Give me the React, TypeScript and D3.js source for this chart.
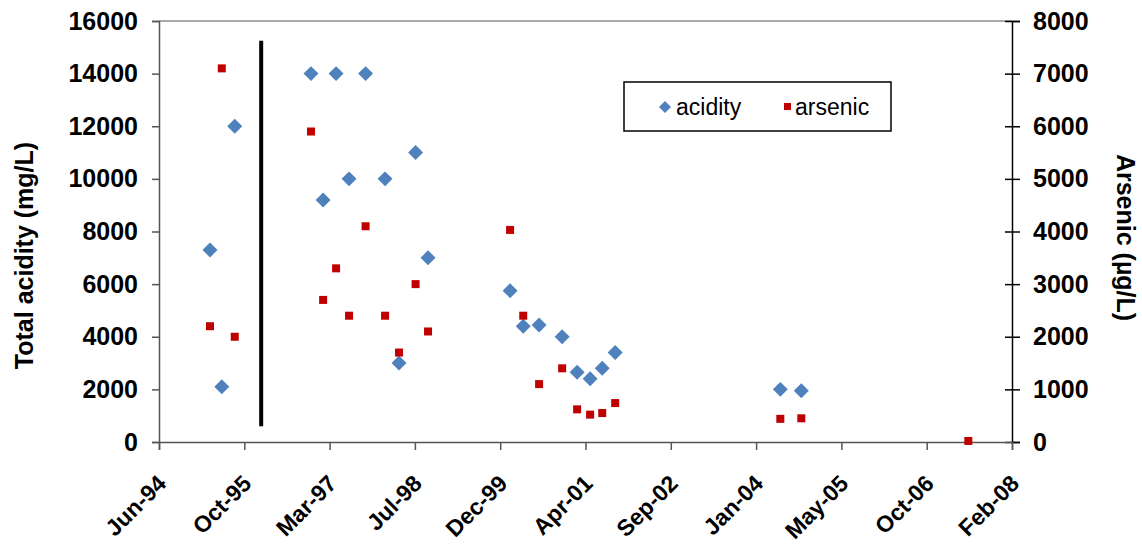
import React, { useEffect, useRef } from "react";
import * as d3 from "d3";

// sample dates and readings
const acidityDates = [
  "1995-04-10", "1995-06-18", "1995-09-02", "1996-11-22", "1997-04-18", "1997-10-08",
  "1997-02-01", "1997-07-03", "1998-01-30", "1998-04-22", "1998-07-28", "1998-10-09",
  "2000-02-02", "2000-04-19", "2000-07-21", "2000-12-03", "2001-03-01", "2001-05-16",
  "2001-07-26", "2001-10-10", "2004-06-04", "2004-10-05",
];
const acidity = [
  7300, 2100, 12000, 14000, 14000, 14000,
  9200, 10000, 10000, 3000, 11000, 7000,
  5750, 4400, 4450, 4000, 2650, 2400,
  2800, 3400, 2000, 1950,
];

const arsenicDates = [
  "1995-06-18", "1995-04-10", "1995-09-02", "1996-11-22", "1997-02-01", "1997-04-18",
  "1997-07-03", "1997-10-08", "1998-01-30", "1998-04-22", "1998-07-28", "1998-10-09",
  "2000-02-02", "2000-04-19", "2000-07-21", "2000-12-03", "2001-03-01", "2001-05-16",
  "2001-07-26", "2001-10-10", "2004-06-04", "2004-10-05", "2007-06-11",
];
const arsenic = [
  7100, 2200, 2000, 5900, 2700, 3300,
  2400, 4100, 2400, 1700, 3000, 2100,
  4030, 2400, 1100, 1400, 620, 520,
  550, 740, 440, 450, 20,
];

// vertical divider (left axis units)
const dividerDate = "1996-02-04";
const dividerRange = [600, 15250];

const xTickDates = [
  "1994-06-15", "1995-10-28", "1997-03-11", "1998-07-24", "1999-12-06", "2001-04-19",
  "2002-09-01", "2004-01-14", "2005-05-28", "2006-10-10", "2008-02-22",
];
const leftTicks = [0, 2000, 4000, 6000, 8000, 10000, 12000, 14000, 16000];
const rightTicks = [0, 1000, 2000, 3000, 4000, 5000, 6000, 7000, 8000];

const W = 1142, H = 544;
const margin = { top: 21, right: 130, bottom: 102, left: 159 };
const FONT = "'Liberation Sans', Arial, sans-serif";

const drawChart = (el: SVGSVGElement) => {
  const parse = d3.utcParse("%Y-%m-%d");
  const x = d3
    .scaleUtc()
    .domain([parse(xTickDates[0])!, parse(xTickDates[xTickDates.length - 1])!])
    .range([margin.left, W - margin.right]);
  const yL = d3.scaleLinear().domain([0, 16000]).range([H - margin.bottom, margin.top]);
  const yR = d3.scaleLinear().domain([0, 8000]).range([H - margin.bottom, margin.top]);

  const svg = d3.select(el);
  svg.selectAll("*").remove();

  // top border
  svg
    .append("line")
    .attr("x1", margin.left).attr("x2", W - margin.right)
    .attr("y1", margin.top).attr("y2", margin.top)
    .attr("stroke", "#8c8c8c").attr("stroke-width", 1.5);

  // left axis
  const gl = svg
    .append("g")
    .attr("transform", `translate(${margin.left},0)`)
    .call(d3.axisLeft(yL).tickValues(leftTicks).tickSize(7).tickPadding(14).tickFormat(d3.format("d")));
  gl.select(".domain").attr("stroke", "#555").attr("stroke-width", 1.5);
  gl.selectAll(".tick line").attr("stroke", "#555").attr("stroke-width", 1.5);
  gl.selectAll("text").attr("font-family", FONT).attr("font-size", 25).attr("font-weight", "bold").attr("fill", "#000");

  // right axis, ticks crossing the line
  const gr = svg
    .append("g")
    .attr("transform", `translate(${W - margin.right},0)`)
    .call(d3.axisRight(yR).tickValues(rightTicks).tickSize(8).tickPadding(13).tickFormat(d3.format("d")));
  gr.select(".domain").attr("stroke", "#000").attr("stroke-width", 1.5);
  gr.selectAll(".tick line").attr("x1", -7).attr("stroke", "#000").attr("stroke-width", 1.5);
  gr.selectAll("text").attr("font-family", FONT).attr("font-size", 25).attr("font-weight", "bold").attr("fill", "#000");

  // bottom axis
  const gb = svg
    .append("g")
    .attr("transform", `translate(0,${H - margin.bottom})`)
    .call(
      d3.axisBottom(x)
        .tickValues(xTickDates.map((d) => parse(d)!))
        .tickSize(8)
        .tickFormat((d) => d3.utcFormat("%b-%y")(d as Date))
    );
  gb.select(".domain").attr("stroke", "#555").attr("stroke-width", 1.5);
  gb.selectAll(".tick line").attr("stroke", "#555").attr("stroke-width", 1.5);
  gb.selectAll("text")
    .attr("font-family", FONT).attr("font-size", 23).attr("font-weight", "bold").attr("fill", "#000")
    .attr("text-anchor", "end")
    .attr("dy", 0)
    .attr("y", 0)
    .attr("transform", "translate(8,43) rotate(-45)");

  // axis titles
  svg
    .append("text")
    .attr("transform", `translate(33,${(margin.top + H - margin.bottom) / 2 + 24}) rotate(-90)`)
    .attr("text-anchor", "middle")
    .attr("font-family", FONT).attr("font-size", 25).attr("font-weight", "bold")
    .text("Total acidity (mg/L)");
  svg
    .append("text")
    .attr("transform", `translate(1117,${(margin.top + H - margin.bottom) / 2 + 6}) rotate(90)`)
    .attr("text-anchor", "middle")
    .attr("font-family", FONT).attr("font-size", 25).attr("font-weight", "bold")
    .text("Arsenic (µg/L)");

  // divider line
  svg
    .append("line")
    .attr("x1", x(parse(dividerDate)!)).attr("x2", x(parse(dividerDate)!))
    .attr("y1", yL(dividerRange[0])).attr("y2", yL(dividerRange[1]))
    .attr("stroke", "#000").attr("stroke-width", 4);

  const diamond = d3.symbol().type(d3.symbolSquare).size(112);

  svg
    .append("g")
    .selectAll("path")
    .data(acidity)
    .join("path")
    .attr("d", diamond)
    .attr("transform", (d, i) => `translate(${x(parse(acidityDates[i])!)},${yL(d)}) rotate(45)`)
    .attr("fill", "#4f81bd");

  svg
    .append("g")
    .selectAll("rect")
    .data(arsenic)
    .join("rect")
    .attr("x", (d, i) => x(parse(arsenicDates[i])!) - 4)
    .attr("y", (d) => yR(d) - 4)
    .attr("width", 8)
    .attr("height", 8)
    .attr("fill", "#c00000");

  // legend
  const lg = svg.append("g").attr("transform", "translate(624,82)");
  lg.append("rect").attr("width", 267).attr("height", 49).attr("fill", "#fff").attr("stroke", "#000").attr("stroke-width", 1.5);
  lg.append("path").attr("d", d3.symbol().type(d3.symbolSquare).size(72)).attr("transform", "translate(41,25) rotate(45)").attr("fill", "#4f81bd");
  lg.append("text").attr("x", 52).attr("y", 33).attr("font-family", FONT).attr("font-size", 23).text("acidity");
  lg.append("rect").attr("x", 160).attr("y", 21).attr("width", 7).attr("height", 7).attr("fill", "#c00000");
  lg.append("text").attr("x", 171).attr("y", 33).attr("font-family", FONT).attr("font-size", 23).text("arsenic");
};

export default function App() {
  const ref = useRef<SVGSVGElement>(null);
  useEffect(() => {
    if (ref.current) drawChart(ref.current);
  }, []);

  return (
    <svg
      ref={ref}
      width={W}
      height={H}
      style={{ position: "absolute", left: 0, top: 0, background: "#fff" }}
    />
  );
}
